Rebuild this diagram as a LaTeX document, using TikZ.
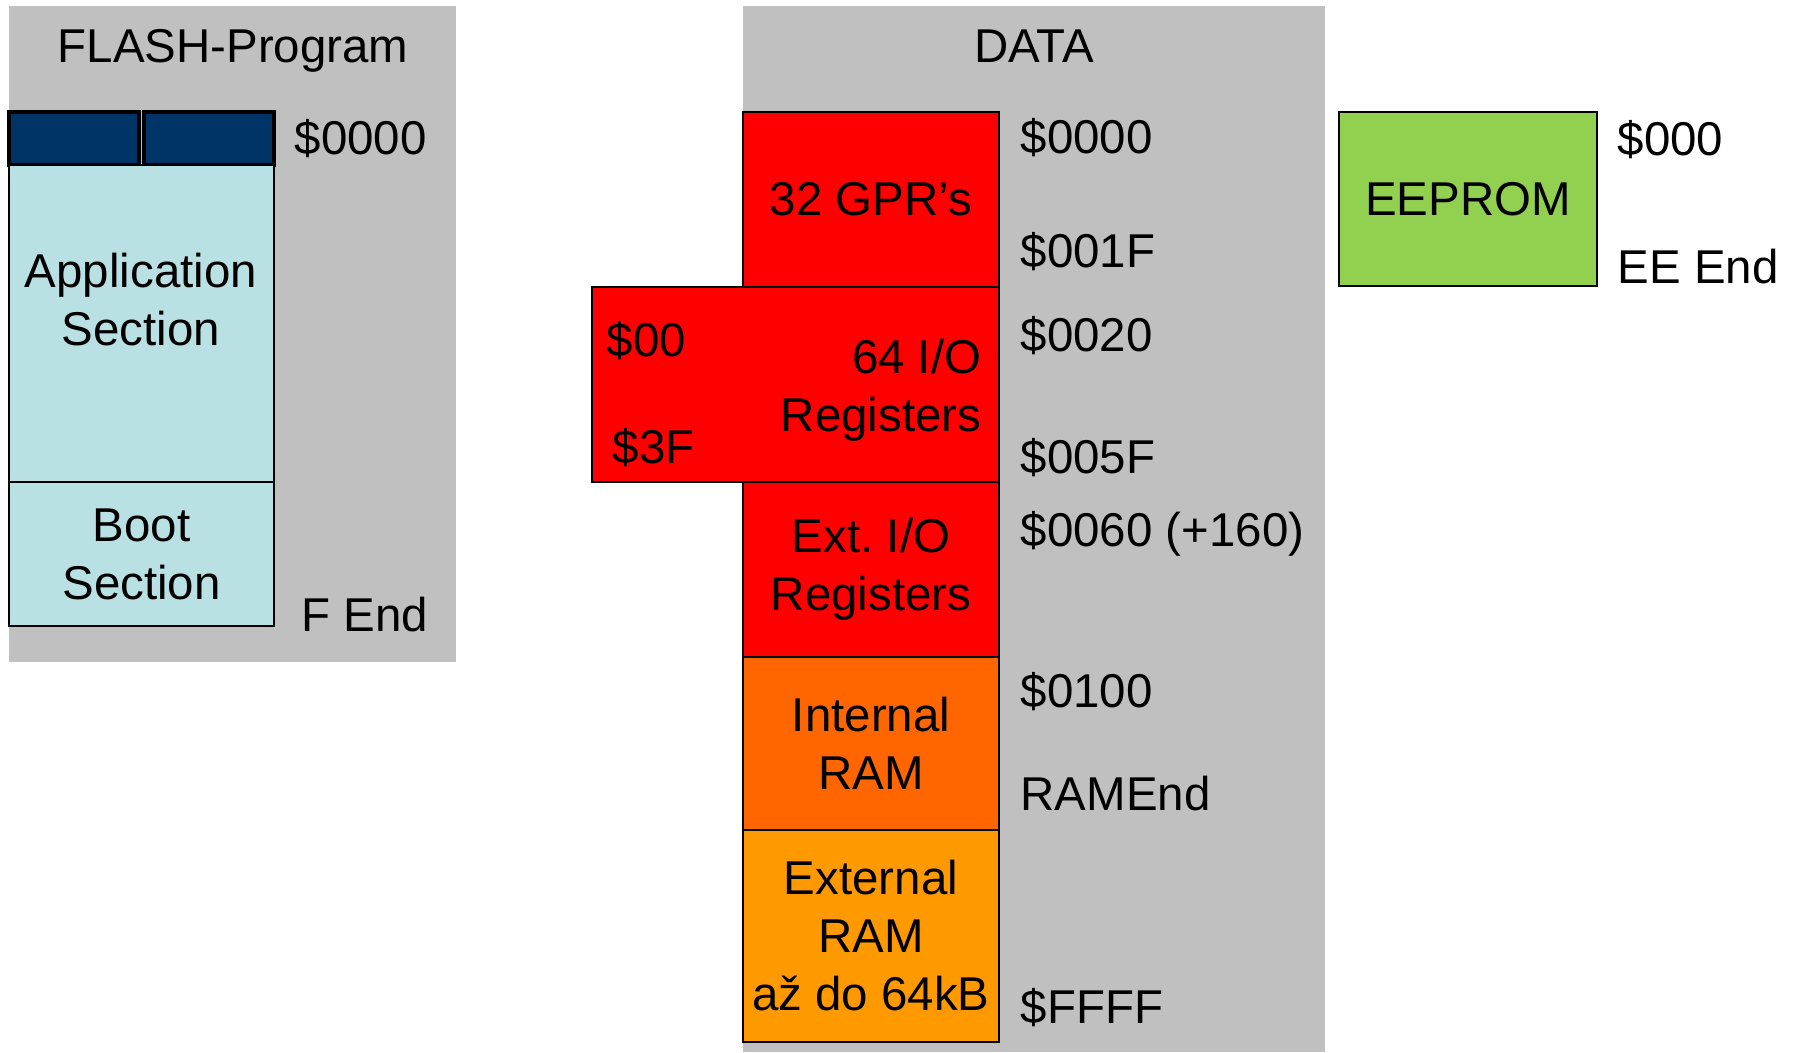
\documentclass[tikz,border=0pt]{standalone}
\usepackage{fontspec}
\setmainfont{Liberation Sans}
\usepackage{xcolor}
\usetikzlibrary{positioning}
\frenchspacing
\definecolor{memgray}{HTML}{C0C0C0}
\definecolor{flashblue}{HTML}{003366}
\definecolor{flashcyan}{HTML}{B9E0E3}
\definecolor{regred}{HTML}{FF0000}
\definecolor{ramorange}{HTML}{FF6600}
\definecolor{xramorange}{HTML}{FF9900}
\definecolor{eegreen}{HTML}{92D050}
\tikzset{membox/.style={draw=black, line width=0.6pt, anchor=north west, inner sep=0pt, outer sep=0pt, align=center},
         addr/.style={anchor=base west, inner sep=0pt}}

\begin{document}
\begin{tikzpicture}[x=0.1mm, y=-0.1mm, font=\fontsize{13.5}{16.5}\selectfont]
\useasboundingbox (0,0) rectangle (1797,1052);
% grey backgrounds
\fill[memgray] (9,6) rectangle (456,662);
\fill[memgray] (743,6) rectangle (1325,1052);
\node[anchor=base] (flashtitle) at (233,62) {FLASH-Program};
\node[anchor=base] (datatitle) at (1034,62) {DATA};
% flash program memory
\node[membox, fill=flashblue, line width=1.3pt, minimum width=13mm, minimum height=5.3mm] (vecA) at (9,112) {};
\node[membox, fill=flashblue, line width=1.3pt, minimum width=13mm, minimum height=5.3mm] (vecB) at (144,112) {};
\node[membox, fill=flashcyan, minimum width=26.5mm, minimum height=31.7mm] (app) at (9,165) {};
\node[align=center] (apptext) at (141,300) {Application\\Section};
\node[membox, fill=flashcyan, minimum width=26.5mm, minimum height=14.4mm] (boot) at (9,482) {Boot\\Section};
\node[addr] (fstart) at (294,154) {\$0000};
\node[addr] (fend) at (301,631) {F End};
% data memory
\node[membox, fill=regred, minimum width=25.6mm, minimum height=17.5mm] (gpr) at (743,112) {32 GPR’s};
\node[membox, fill=regred, minimum width=40.7mm, minimum height=19.5mm] (io) at (592,287) {};
\node[anchor=east, align=right, inner sep=0pt] (iotext) at (982,390) {64 I/O\\Registers};
\node[addr] (iostart) at (606,356) {\$00};
\node[addr] (ioend) at (612,463) {\$3F};
\node[membox, fill=regred, minimum width=25.6mm, minimum height=17.5mm] (extio) at (743,482) {Ext. I/O\\Registers};
\node[membox, fill=ramorange, minimum width=25.6mm, minimum height=17.3mm] (iram) at (743,657) {Internal\\RAM};
\node[membox, fill=xramorange, minimum width=25.6mm, minimum height=21.2mm] (xram) at (743,830) {External\\RAM\\až do 64kB};
\node[addr] (a0000) at (1020,153) {\$0000};
\node[addr] (a001f) at (1020,267) {\$001F};
\node[addr] (a0020) at (1020,351) {\$0020};
\node[addr] (a005f) at (1020,473) {\$005F};
\node[addr] (a0060) at (1020,546) {\$0060 (+160)};
\node[addr] (a0100) at (1020,707) {\$0100};
\node[addr] (ramend) at (1020,810) {RAMEnd};
\node[addr] (affff) at (1020,1023) {\$FFFF};
% eeprom
\node[membox, fill=eegreen, minimum width=25.8mm, minimum height=17.4mm] (eeprom) at (1339,112) {EEPROM};
\node[addr] (eestart) at (1617,155) {\$000};
\node[addr] (eeend) at (1617,283) {EE End};
\end{tikzpicture}
\end{document}
